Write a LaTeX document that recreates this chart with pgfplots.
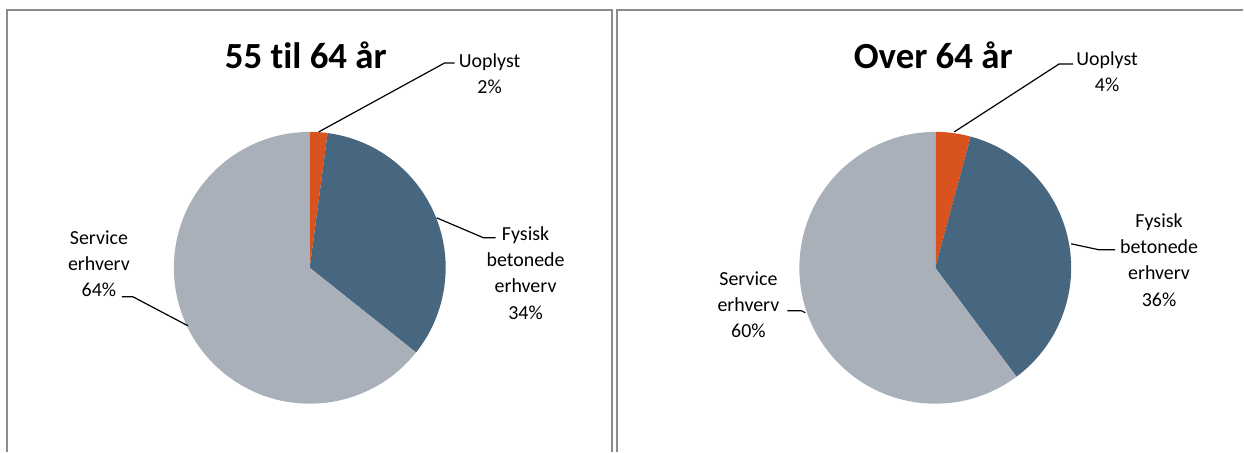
\documentclass[border=0pt]{standalone}
\usepackage{pgfplots}
\pgfplotsset{compat=1.18}
\usepackage{fontspec}
\setmainfont{Carlito}[Ligatures=NoCommon]
\definecolor{cUo}{HTML}{D9531E}
\definecolor{cFy}{HTML}{476780}
\definecolor{cSe}{HTML}{A9B0B9}
\definecolor{cBd}{HTML}{8C8C8C}
% shares (percent): Uoplyst, Fysisk betonede erhverv, Service erhverv
\def\Ua{2.1}\def\Fa{33.6}\def\Sa{64.3}
\def\Ub{4.2}\def\Fb{35.6}\def\Sb{60.2}
\newcommand\pie[5]{% cx, cy, u, f, s
  \fill[cUo] (axis cs:#1,#2) -- ++(90:136bp) arc[start angle=90,end angle={90-3.6*#3},radius=136bp] -- cycle;
  \fill[cFy] (axis cs:#1,#2) -- ++({90-3.6*#3}:136bp) arc[start angle={90-3.6*#3},end angle={90-3.6*(#3+#4)},radius=136bp] -- cycle;
  \fill[cSe] (axis cs:#1,#2) -- ++({90-3.6*(#3+#4)}:136bp) arc[start angle={90-3.6*(#3+#4)},end angle=-270,radius=136bp] -- cycle;
}
\begin{document}
\begin{tikzpicture}
\begin{axis}[
  width=1244bp, height=452bp, scale only axis,
  xmin=0, xmax=1244, ymin=0, ymax=452, y dir=reverse,
  hide axis, clip=false]
\path (axis cs:0,0) rectangle (axis cs:1244,452);
% panel borders
\draw[cBd, line width=2bp] (axis cs:7.5,452) -- (axis cs:7.5,10) -- (axis cs:612,10) -- (axis cs:612,452);
\draw[cBd, line width=2bp] (axis cs:617,452) -- (axis cs:617,10) -- (axis cs:1244,10);
% pies
\pie{310}{268}{\Ua}{\Fa}{\Sa}
\pie{936}{268}{\Ub}{\Fb}{\Sb}
% titles
\node[font=\fontsize{37}{40}\selectfont\bfseries] at (axis cs:306,55) {55 til 64 år};
\node[font=\fontsize{37}{40}\selectfont\bfseries] at (axis cs:934,55) {Over 64 år};
% leaders
\draw[black, line width=1.2bp] (axis cs:319,132) -- (axis cs:445,63) -- (axis cs:455,63);
\draw[black, line width=1.2bp] (axis cs:437,218) -- (axis cs:484,238) -- (axis cs:496,238);
\draw[black, line width=1.2bp] (axis cs:188,326) -- (axis cs:133,297) -- (axis cs:122,297);
\draw[black, line width=1.2bp] (axis cs:955,132) -- (axis cs:1060,64) -- (axis cs:1074,64);
\draw[black, line width=1.2bp] (axis cs:1072,244) -- (axis cs:1100,250) -- (axis cs:1116,250);
\draw[black, line width=1.2bp] (axis cs:806,313) -- (axis cs:802,311) -- (axis cs:788,311);
% labels
\tikzset{lab/.style={align=center, font=\fontsize{20}{26.5}\selectfont, inner sep=0pt}}
\node[lab] at (axis cs:490,74) {Uoplyst\\2\%};
\node[lab] at (axis cs:526,273) {Fysisk\\betonede\\erhverv\\34\%};
\node[lab] at (axis cs:99,264) {Service\\erhverv\\64\%};
\node[lab] at (axis cs:1108,72) {Uoplyst\\4\%};
\node[lab] at (axis cs:1160,260) {Fysisk\\betonede\\erhverv\\36\%};
\node[lab] at (axis cs:749,305) {Service\\erhverv\\60\%};
\end{axis}
\end{tikzpicture}
\end{document}
